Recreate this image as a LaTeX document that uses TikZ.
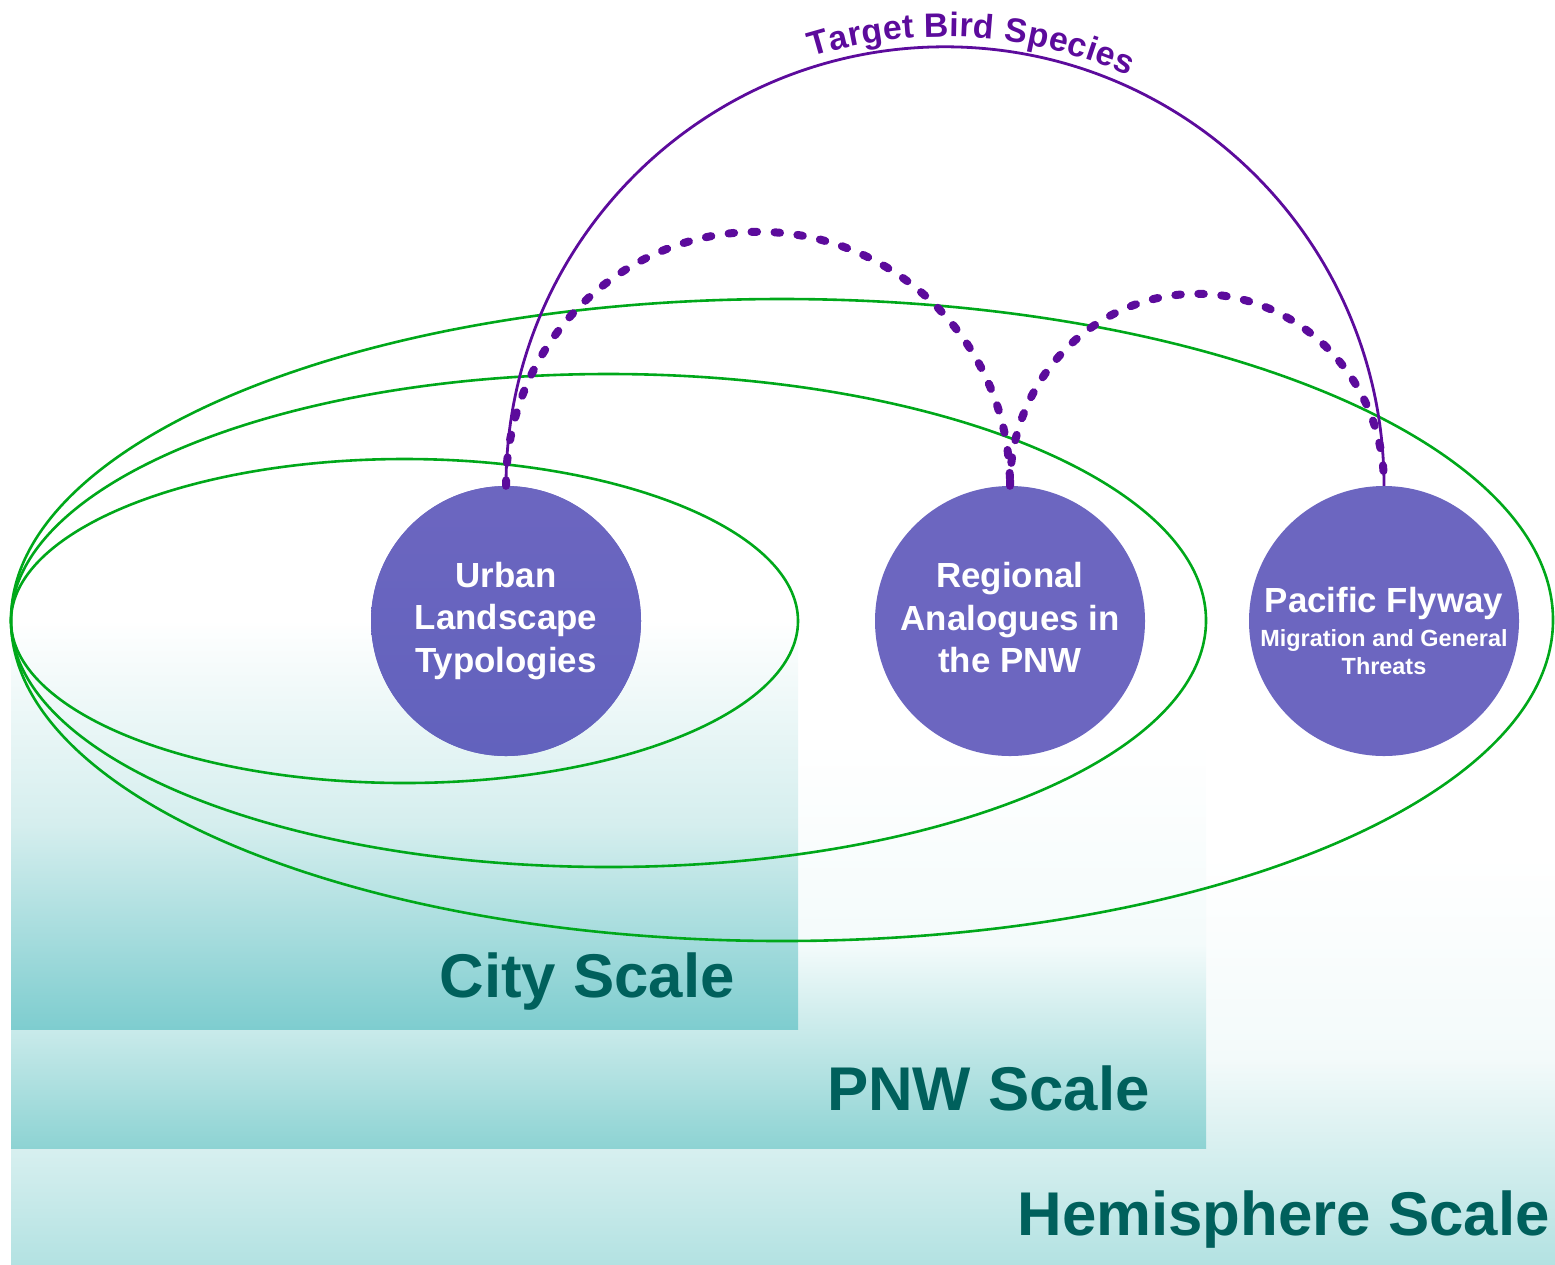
\documentclass[tikz,border=0pt]{standalone}
\usepackage{fontspec}
\setmainfont{Liberation Sans}
\usetikzlibrary{decorations.text}
\definecolor{tpurple}{RGB}{92,11,156}
\definecolor{lgreen}{RGB}{0,168,26}
\definecolor{cfill}{RGB}{108,102,192}
\definecolor{cfillb}{RGB}{98,98,189}
\definecolor{scaletext}{RGB}{0,96,92}
\definecolor{cityb}{RGB}{126,205,207}
\definecolor{citym}{RGB}{213,238,238}
\definecolor{pnwb}{RGB}{141,211,211}
\definecolor{pnwm}{RGB}{244,251,251}
\definecolor{hemib}{RGB}{179,226,226}
\definecolor{hemim}{RGB}{243,250,250}
\begin{document}
\begin{tikzpicture}[x=1bp,y=-1bp,
  scopering/.style={draw=lgreen, line width=2.6bp},
  bubble/.style={circle, fill=cfill, minimum size=270bp, inner sep=0pt, text=white, align=center, font=\fontsize{35}{43}\selectfont\bfseries},
  scalelabel/.style={anchor=base east, text=scaletext, font=\fontsize{62}{62}\selectfont\bfseries, inner sep=0pt},
  dotlink/.style={draw=tpurple, line width=8bp, line cap=round, dash pattern=on 5.5bp off 17.5bp},
  solidlink/.style={draw=tpurple, line width=2.8bp},
]
\useasboundingbox (0,0) rectangle (1555,1264);
% scale bands
\fill[top color=white, bottom color=hemib, middle color=hemim] (11,855) rectangle (1555,1264);
\fill[top color=white, bottom color=pnwb, middle color=pnwm] (11,740) rectangle (1206,1148);
\fill[top color=white, bottom color=cityb, middle color=citym] (11,620) rectangle (798,1029);
% scale labels
\node[scalelabel] (citylbl) at (735,997) {City Scale};
\node[scalelabel] (pnwlbl) at (1150,1110) {PNW Scale};
\node[scalelabel] (hemilbl) at (1550,1235) {Hemisphere Scale};
% scope rings
\draw[scopering] (404.5,621) ellipse [x radius=393.5, y radius=162];
\draw[scopering] (608.5,620.5) ellipse [x radius=597.5, y radius=246.5];
\draw[scopering] (782,620) ellipse [x radius=771, y radius=321];
% bubbles
\node[bubble, top color=cfill, bottom color=cfillb] (urban) at (506,621) {Urban\\Landscape\\Typologies};
\node[bubble] (regional) at (1010,621) {Regional\\Analogues in\\the PNW\vphantom{y}};
\node[bubble, font=\fontsize{23.5}{28}\selectfont\bfseries] (pacific) at (1384,621)
  {{\fontsize{35}{35}\selectfont\rule{0pt}{45bp}Pacific Flyway}\\[5.5bp]Migration and General\\Threats};
% links
\draw[dotlink] (urban.north) arc[start angle=180, end angle=360, x radius=252, y radius=254];
\draw[dotlink] (regional.north) arc[start angle=180, end angle=360, x radius=187, y radius=192];
\draw[solidlink] (urban.north) arc[start angle=180, end angle=360, radius=439];
\path[decorate, decoration={text along path, text align={center, left indent=52bp}, raise=10bp,
  text={|\fontsize{34}{34}\selectfont\bfseries\color{tpurple}|Target Bird Species}}]
  (urban.north) arc[start angle=180, end angle=360, radius=439];
\end{tikzpicture}
\end{document}
